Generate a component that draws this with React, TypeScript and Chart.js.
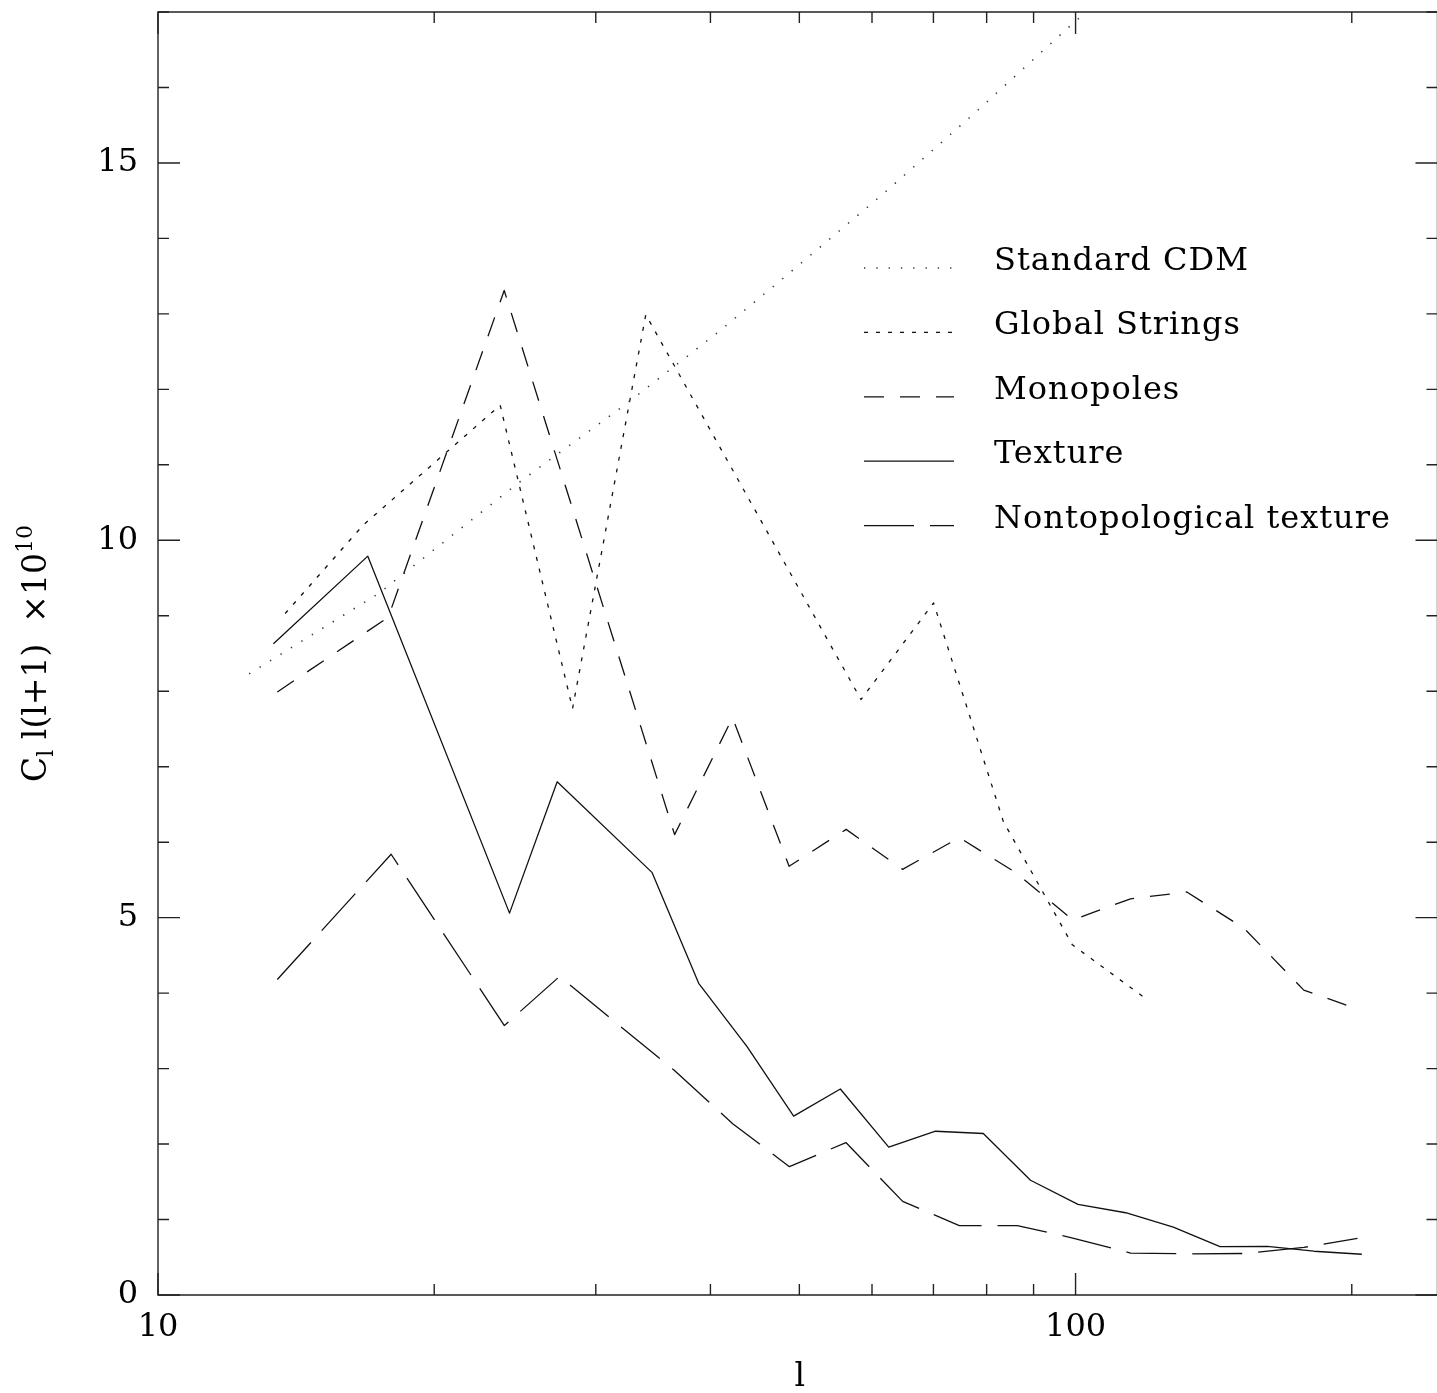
import React, { useEffect, useRef } from "react";
import { Chart, registerables } from "chart.js";

Chart.register(...registerables);

const FONT = '"DejaVu Serif", "Liberation Serif", serif';

// ---- series names ----
const SERIES_NAMES = [
  "Standard CDM",
  "Global Strings",
  "Monopoles",
  "Texture",
  "Nontopological texture",
];

// ---- Standard CDM ----
const cdmL = [12.57, 17.42, 24.7, 32.48, 40.8, 47.88, 61.7, 77.62, 97.7, 104];
const cdmC = [8.23, 9.3, 10.76, 11.82, 12.76, 13.46, 14.59, 15.66, 16.77, 17.06];

// ---- Global Strings ----
const stringsL = [13.76, 16.73, 23.6, 28.3, 34.01, 58.36, 70.03, 83.45, 99.2, 119.5];
const stringsC = [9.03, 10.2, 11.79, 7.77, 12.99, 7.89, 9.17, 6.27, 4.64, 3.92];

// ---- Monopoles ----
const monoL = [13.49, 17.82, 23.84, 36.56, 42.28, 48.73, 56.23, 64.78, 74.7, 86.0, 99.3, 114.8, 132.2, 152.6, 177.3, 202.9];
const monoC = [7.99, 8.98, 13.31, 6.1, 7.65, 5.68, 6.17, 5.64, 6.06, 5.6, 4.97, 5.25, 5.34, 4.86, 4.04, 3.79];

// ---- Texture ----
const textureL = [13.36, 16.93, 24.16, 27.23, 34.54, 38.84, 43.85, 49.29, 55.42, 62.57, 70.37, 79.33, 89.31, 100.6, 113.4, 127.8, 143.7, 161.8, 181.9, 205.1];
const textureC = [8.63, 9.79, 5.06, 6.8, 5.6, 4.13, 3.29, 2.37, 2.73, 1.96, 2.17, 2.14, 1.52, 1.2, 1.09, 0.9, 0.64, 0.645, 0.58, 0.54];

// ---- Nontopological texture ----
const nontopoL = [13.49, 17.95, 23.85, 27.39, 36.5, 42.3, 48.77, 56.2, 64.8, 74.7, 86.4, 99.3, 114.8, 132.2, 152.6, 177.3, 202.9];
const nontopoC = [4.18, 5.84, 3.57, 4.22, 2.98, 2.27, 1.7, 2.02, 1.24, 0.92, 0.92, 0.755, 0.556, 0.545, 0.55, 0.63, 0.75];

// ---- axes ----
const X_MIN = 10;
const X_MAX = 248;
const Y_MIN = 0;
const Y_MAX = 17;
const X_TICKS = [10, 20, 30, 40, 50, 60, 70, 80, 90, 100, 200];
const X_LABELED = [10, 100];
const Y_TICKS = [0, 1, 2, 3, 4, 5, 6, 7, 8, 9, 10, 11, 12, 13, 14, 15, 16, 17];
const Y_LABELED = [0, 5, 10, 15];
const X_TITLE = "l";
const Y_TITLE_PARTS = ["C", "l", " l(l+1)  \u00d710", "10"];

const pts = (xs: number[], ys: number[]) => xs.map((x, i) => ({ x, y: ys[i] }));

const DASHES = [
  [1.3, 11],
  [4, 8],
  [20, 16],
  [],
  [50, 16],
];
const COLORS = ["#333", "#111", "#111", "#111", "#111"];

const decoPlugin = {
  id: "deco",
  afterDatasetsDraw(chart: any) {
    const { ctx, chartArea: a, scales } = chart;
    const xs = scales.x;
    const ys = scales.y;
    ctx.save();
    ctx.strokeStyle = "#222";
    ctx.lineWidth = 1.4;
    ctx.setLineDash([]);
    ctx.beginPath();
    ctx.rect(a.left, a.top, a.right - a.left, a.bottom - a.top);
    ctx.stroke();
    ctx.beginPath();
    for (const v of X_TICKS) {
      const px = xs.getPixelForValue(v);
      const len = X_LABELED.includes(v) ? 22 : 11;
      ctx.moveTo(px, a.bottom);
      ctx.lineTo(px, a.bottom - len);
      ctx.moveTo(px, a.top);
      ctx.lineTo(px, a.top + len);
    }
    for (const v of Y_TICKS) {
      const py = ys.getPixelForValue(v);
      const len = Y_LABELED.includes(v) ? 22 : 11;
      ctx.moveTo(a.left, py);
      ctx.lineTo(a.left + len, py);
      ctx.moveTo(a.right, py);
      ctx.lineTo(a.right - len, py);
    }
    ctx.stroke();
    ctx.restore();
  },
  afterDraw(chart: any) {
    const { ctx, chartArea: a } = chart;
    ctx.save();
    // legend
    const lx0 = 864;
    const lx1 = 954;
    const tx = 994;
    chart.data.datasets.forEach((ds: any, i: number) => {
      const y = 268 + i * 64.4;
      ctx.strokeStyle = ds.borderColor;
      ctx.lineWidth = ds.borderWidth;
      ctx.setLineDash(ds.borderDash || []);
      ctx.beginPath();
      ctx.moveTo(lx0, y);
      ctx.lineTo(lx1, y);
      ctx.stroke();
      ctx.setLineDash([]);
      ctx.fillStyle = "#000";
      ctx.font = `32px ${FONT}`;
      ctx.textAlign = "left";
      ctx.textBaseline = "alphabetic";
      (ctx as any).letterSpacing = "1px";
      ctx.fillText(ds.label, tx, y + 2);
      (ctx as any).letterSpacing = "0px";
    });
    // x title
    ctx.fillStyle = "#000";
    ctx.font = `33px ${FONT}`;
    ctx.textAlign = "center";
    ctx.textBaseline = "alphabetic";
    ctx.fillText(X_TITLE, (a.left + a.right) / 2 + 2, 1386);
    // y title (rotated)
    const cy = (a.top + a.bottom) / 2;
    ctx.translate(0, cy);
    ctx.rotate(-Math.PI / 2);
    ctx.textAlign = "left";
    const main = `33px ${FONT}`;
    const small = `22px ${FONT}`;
    const specs = [
      { t: Y_TITLE_PARTS[0], f: main, dy: 0 },
      { t: Y_TITLE_PARTS[1], f: small, dy: 7 },
      { t: Y_TITLE_PARTS[2], f: main, dy: 0 },
      { t: Y_TITLE_PARTS[3], f: small, dy: -14 },
    ];
    let total = 0;
    for (const s of specs) {
      ctx.font = s.f;
      total += ctx.measureText(s.t).width;
    }
    let u = -total / 2;
    const base = 46;
    for (const s of specs) {
      ctx.font = s.f;
      ctx.fillText(s.t, u, base + s.dy);
      u += ctx.measureText(s.t).width;
    }
    ctx.restore();
  },
};

export default function App() {
  const ref = useRef<HTMLCanvasElement>(null);
  useEffect(() => {
    const canvas = ref.current;
    if (!canvas) return;
    const series = [
      pts(cdmL, cdmC),
      pts(stringsL, stringsC),
      pts(monoL, monoC),
      pts(textureL, textureC),
      pts(nontopoL, nontopoC),
    ];
    const chart = new Chart(canvas, {
      type: "line",
      data: {
        datasets: series.map((d, i) => ({
          label: SERIES_NAMES[i],
          data: d,
          borderColor: COLORS[i],
          borderWidth: i === 0 ? 1.6 : 1.3,
          borderDash: DASHES[i],
          borderJoinStyle: "round",
          pointRadius: 0,
          tension: 0,
          fill: false,
        })),
      },
      options: {
        responsive: false,
        animation: false,
        events: [],
        layout: { padding: { left: 0, top: 12, right: 3.5, bottom: 0 } },
        plugins: {
          legend: { display: false },
          tooltip: { enabled: false },
        },
        scales: {
          x: {
            type: "logarithmic",
            position: "bottom",
            min: X_MIN,
            max: X_MAX,
            grid: { display: false, drawTicks: false },
            border: { display: false },
            afterBuildTicks: (s: any) => {
              s.ticks = X_TICKS.map((v) => ({ value: v }));
            },
            afterFit: (s: any) => {
              s.height = 98;
              s.paddingLeft = 0;
              s.paddingRight = 0;
              s.paddingTop = 0;
              s.paddingBottom = 0;
            },
            ticks: {
              autoSkip: false,
              maxRotation: 0,
              minRotation: 0,
              padding: 13,
              color: "#000",
              font: { family: FONT, size: 32 },
              callback: (v: any) => (X_LABELED.includes(Number(v)) ? String(v) : ""),
            },
          },
          y: {
            type: "linear",
            position: "left",
            min: Y_MIN,
            max: Y_MAX,
            grid: { display: false, drawTicks: false },
            border: { display: false },
            afterBuildTicks: (s: any) => {
              s.ticks = Y_LABELED.map((v) => ({ value: v }));
            },
            afterFit: (s: any) => {
              s.width = 158;
              s.paddingLeft = 0;
              s.paddingRight = 0;
              s.paddingTop = 0;
              s.paddingBottom = 0;
            },
            ticks: {
              padding: 20,
              color: "#000",
              font: { family: FONT, size: 32 },
              callback: (v: any) => String(v),
            },
          },
        },
      } as any,
      plugins: [decoPlugin],
    });
    return () => chart.destroy();
  }, []);
  return (
    <div
      style={{
        position: "absolute",
        left: 0,
        top: 0,
        width: 1437,
        height: 1393,
        overflow: "hidden",
        background: "#fff",
      }}
    >
      <canvas ref={ref} width={1441} height={1393} style={{ display: "block" }} />
    </div>
  );
}
